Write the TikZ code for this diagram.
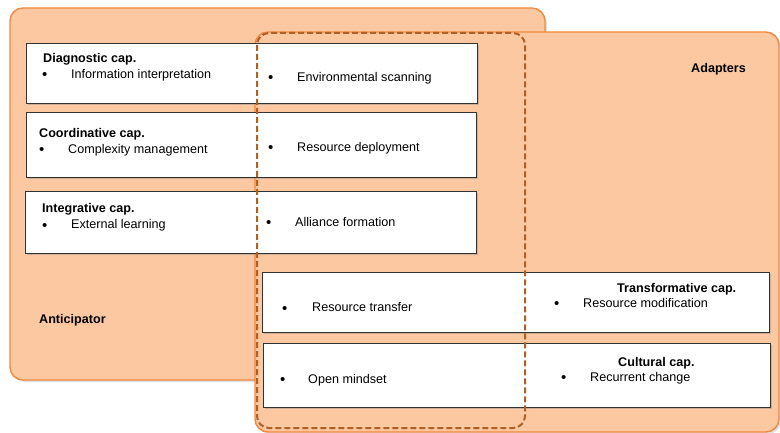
\documentclass[tikz,border=0pt]{standalone}
\usepackage{fontspec}
\setmainfont{Liberation Sans}
\usetikzlibrary{shadows}
\definecolor{grpfill}{RGB}{252,200,161}
\definecolor{grpline}{RGB}{240,138,62}
\definecolor{dashline}{RGB}{176,96,38}
\tikzset{
  grp/.style={fill=grpfill,draw=grpline,line width=1.4pt,rounded corners=13pt,
    drop shadow={shadow xshift=2pt,shadow yshift=-2pt,opacity=0.25}},
  capbox/.style={fill=white,draw=black!80,line width=0.9pt,
    drop shadow={shadow xshift=2pt,shadow yshift=-2pt,opacity=0.35}},
  lbl/.style={font=\fontsize{12.6}{15}\selectfont\bfseries,anchor=base west,inner sep=0pt},
  itm/.style={font=\fontsize{12.6}{15}\selectfont,anchor=base west,inner sep=0pt},
  dot/.style={font=\fontsize{15}{15}\selectfont,anchor=base west,inner sep=0pt},
}
\begin{document}
\begin{tikzpicture}[x=1pt,y=-1pt]
\useasboundingbox (0,0) rectangle (780,433);
% the two groups
\draw[grp] (10,8) rectangle (545,380);
\draw[grp] (255,32) rectangle (779,432);
% capability boxes
\draw[capbox] (26,43) rectangle (477,103);
\draw[capbox] (26,112) rectangle (476,177);
\draw[capbox] (25,191) rectangle (476,253);
\draw[capbox] (262,272) rectangle (769,332);
\draw[capbox] (263,343) rectangle (770,407);
% shared area
\draw[dashline,line width=2pt,dash pattern=on 6pt off 3pt,rounded corners=12pt] (257,33) rectangle (525,428);

\node[lbl] (ant) at (39,323) {Anticipator};
\node[lbl] (ada) at (691,73) {Adapters};

\node[lbl] (diag) at (43,63) {Diagnostic cap.};
\node[dot] (b1) at (42,80) {•};
\node[itm] (info) at (71,79) {Information interpretation};
\node[dot] (b2) at (268,83) {•};
\node[itm] (env) at (297,82) {Environmental scanning};

\node[lbl] (coord) at (39,138) {Coordinative cap.};
\node[dot] (b3) at (39,155) {•};
\node[itm] (cplx) at (68,154) {Complexity management};
\node[dot] (b4) at (268,153) {•};
\node[itm] (depl) at (297,152) {Resource deployment};

\node[lbl] (integ) at (42,213) {Integrative cap.};
\node[dot] (b5) at (42,230) {•};
\node[itm] (extl) at (71,229) {External learning};
\node[dot] (b6) at (266,228) {•};
\node[itm] (alli) at (295,227) {Alliance formation};

\node[dot] (b7) at (282,313) {•};
\node[itm] (trans) at (312,312) {Resource transfer};
\node[lbl] (trf) at (617,292) {Transformative cap.};
\node[dot] (b8) at (554,308) {•};
\node[itm] (modi) at (583,307) {Resource modification};

\node[dot] (b9) at (280,384) {•};
\node[itm] (open) at (308,383) {Open mindset};
\node[lbl] (cult) at (618,366) {Cultural cap.};
\node[dot] (b10) at (561,382) {•};
\node[itm] (recc) at (590,381) {Recurrent change};
\end{tikzpicture}
\end{document}
